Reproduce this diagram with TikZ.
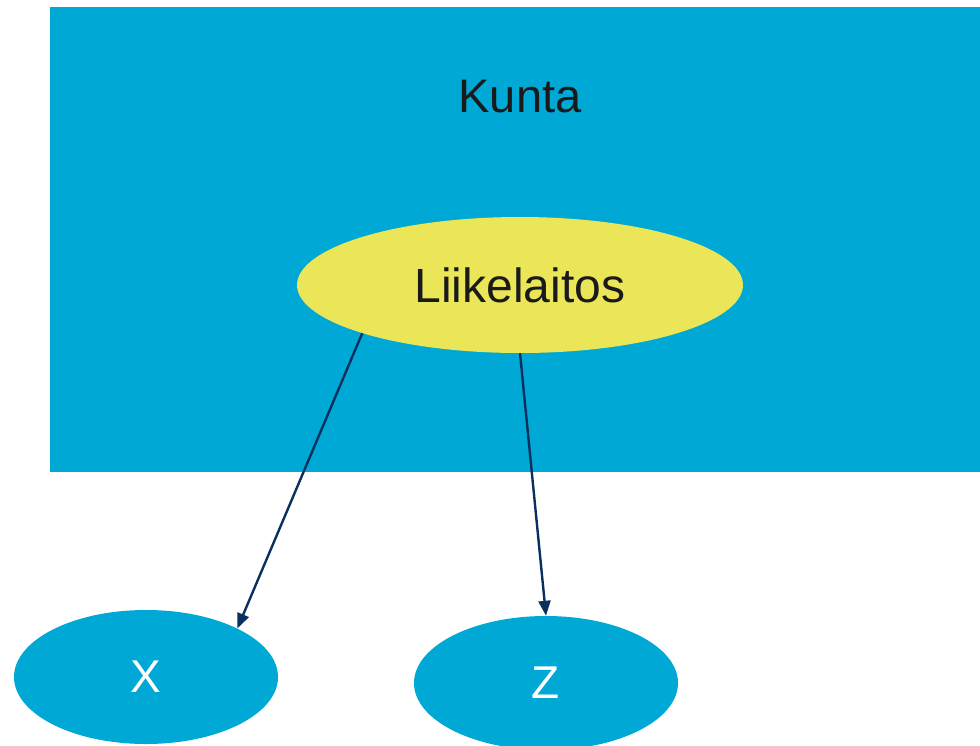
\documentclass[tikz,border=0pt]{standalone}
\usepackage{fontspec}
\setmainfont{Liberation Sans}
\usetikzlibrary{shapes.geometric, arrows.meta}
\definecolor{kuntaBlue}{RGB}{0,168,214}
\definecolor{unitYellow}{RGB}{235,230,88}
\definecolor{arrowColor}{RGB}{10,48,96}
\definecolor{textColor}{RGB}{26,26,26}
\tikzstyle{plan} = [x = 1pt, y = -1pt]
\tikzstyle{kuntaText} = [text=textColor, font=\fontsize{47}{54}\selectfont]
\tikzstyle{unitStyle} = [ellipse, inner sep=0pt, minimum width=446pt, minimum height=136pt, fill=unitYellow, text=textColor, font=\fontsize{48}{56}\selectfont]
\tikzstyle{partStyle} = [ellipse, inner sep=0pt, minimum width=264pt, minimum height=134pt, fill=kuntaBlue, text=white, font=\fontsize{46}{54}\selectfont]
\tikzstyle{ownLink} = [color=arrowColor, line width=2.4pt, -{Triangle[length=15pt, width=12pt]}]

\begin{document}
\begin{tikzpicture}[plan]
    \useasboundingbox (0,0) rectangle (980,745);
    \fill [kuntaBlue] (50,7) rectangle (980,472);
    \node [kuntaText] (kunta) at (520,97) {Kunta};
    \node [unitStyle] (liikelaitos) at (520,285) {Liikelaitos};
    \node [partStyle] (x) at (146,677) {X};
    \node [partStyle] (z) at (546,683) {Z};
    \draw [ownLink] (liikelaitos.197) -- (x.28);
    \draw [ownLink] (liikelaitos.south) -- (z.north);
\end{tikzpicture}
\end{document}
